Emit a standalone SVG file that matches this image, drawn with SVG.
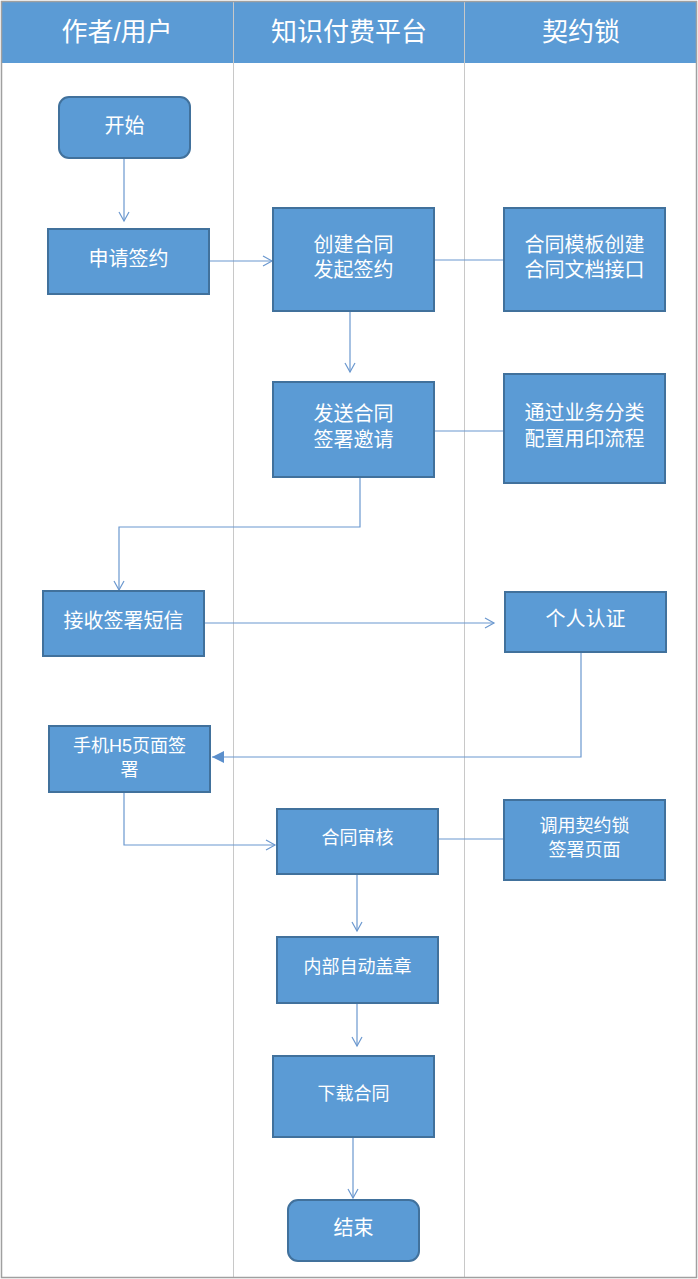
<svg xmlns="http://www.w3.org/2000/svg" width="698" height="1279" viewBox="0 0 698 1279">
<style>
.hdr{fill:#5b9bd5}
.ht{font-family:"Liberation Sans","Noto Sans CJK SC",sans-serif;font-size:26px;fill:#fff;text-anchor:middle;dominant-baseline:central}
.nd{fill:#5b9bd5;stroke:#41719c;stroke-width:2}
.t{font-family:"Liberation Sans","Noto Sans CJK SC",sans-serif;font-size:20px;fill:#fff;text-anchor:middle;dominant-baseline:central}
.ts{font-family:"Liberation Sans","Noto Sans CJK SC",sans-serif;font-size:18px;fill:#fff;text-anchor:middle;dominant-baseline:central}
.c{fill:none;stroke:#6b98cf;stroke-width:1.2}
.lane{stroke:#c8c8c8;stroke-width:1}
</style>
<defs>
<marker id="a" markerWidth="12" markerHeight="12" refX="10" refY="6" orient="auto" markerUnits="userSpaceOnUse">
<path d="M1,1 L10,6 L1,11" fill="none" stroke="#6b98cf" stroke-width="1.2"/>
</marker>
<marker id="f" markerWidth="14" markerHeight="14" refX="12" refY="7" orient="auto" markerUnits="userSpaceOnUse">
<path d="M0,1 L12,7 L0,13 Z" fill="#5b8fcc"/>
</marker>
</defs>
<rect x="0" y="0" width="698" height="1279" fill="#fff"/>
<g id="lanes">
<rect class="hdr" x="2" y="2" width="694" height="61"/>
<line class="lane" x1="233.5" y1="2" x2="233.5" y2="1277"/>
<line class="lane" x1="464.5" y1="2" x2="464.5" y2="1277"/>
<rect x="1.5" y="1.5" width="695" height="1276" fill="none" stroke="#a0a0a0" stroke-width="1.5"/>
<text class="ht" x="117" y="32">作者/用户</text>
<text class="ht" x="349" y="32">知识付费平台</text>
<text class="ht" x="581" y="32">契约锁</text>
</g>
<g id="connectors">
<path class="c" d="M124,158 V221" marker-end="url(#a)"/>
<path class="c" d="M209,261 H272" marker-end="url(#a)"/>
<path class="c" d="M434,260 H504"/>
<path class="c" d="M350,311 V372" marker-end="url(#a)"/>
<path class="c" d="M434,431 H504"/>
<path class="c" d="M360,477 V527 H119 V590" marker-end="url(#a)"/>
<path class="c" d="M204,623 H494" marker-end="url(#a)"/>
<path class="c" d="M581,652 V757 H212" marker-end="url(#f)"/>
<path class="c" d="M124,792 V845 H275" marker-end="url(#a)"/>
<path class="c" d="M438,839 H504"/>
<path class="c" d="M357,874 V931" marker-end="url(#a)"/>
<path class="c" d="M357,1003 V1046" marker-end="url(#a)"/>
<path class="c" d="M353,1137 V1198" marker-end="url(#a)"/>
</g>
<g id="n-start"><rect class="nd" x="59" y="97" width="131" height="61" rx="10"/><text class="t" x="124.5" y="126">开始</text></g>
<g id="n-apply"><rect class="nd" x="48" y="229" width="161" height="65"/><text class="t" x="128.5" y="259">申请签约</text></g>
<g id="n-create"><rect class="nd" x="273" y="208" width="161" height="103"/><text class="t" x="353.5" y="245">创建合同</text><text class="t" x="353.5" y="270">发起签约</text></g>
<g id="n-template"><rect class="nd" x="504" y="208" width="161" height="103"/><text class="t" x="584.5" y="245">合同模板创建</text><text class="t" x="584.5" y="270">合同文档接口</text></g>
<g id="n-send"><rect class="nd" x="273" y="382" width="161" height="95"/><text class="t" x="353.5" y="414">发送合同</text><text class="t" x="353.5" y="440">签署邀请</text></g>
<g id="n-config"><rect class="nd" x="504" y="374" width="161" height="109"/><text class="t" x="584.5" y="413">通过业务分类</text><text class="t" x="584.5" y="439">配置用印流程</text></g>
<g id="n-sms"><rect class="nd" x="43" y="591" width="161" height="65"/><text class="t" x="123.5" y="621">接收签署短信</text></g>
<g id="n-auth"><rect class="nd" x="505" y="592" width="161" height="60"/><text class="t" x="585.5" y="619">个人认证</text></g>
<g id="n-h5"><rect class="nd" x="49" y="726" width="161" height="66"/><text class="ts" x="129.5" y="746">手机H5页面签</text><text class="ts" x="129.5" y="770">署</text></g>
<g id="n-review"><rect class="nd" x="277" y="809" width="161" height="65"/><text class="ts" x="357.5" y="838">合同审核</text></g>
<g id="n-call"><rect class="nd" x="504" y="800" width="161" height="80"/><text class="ts" x="584.5" y="826">调用契约锁</text><text class="ts" x="584.5" y="850">签署页面</text></g>
<g id="n-seal"><rect class="nd" x="277" y="937" width="161" height="66"/><text class="ts" x="357.5" y="967">内部自动盖章</text></g>
<g id="n-download"><rect class="nd" x="273" y="1056" width="161" height="81"/><text class="ts" x="353.5" y="1094">下载合同</text></g>
<g id="n-end"><rect class="nd" x="288" y="1200" width="131" height="61" rx="10"/><text class="t" x="353.5" y="1228">结束</text></g>
</svg>
